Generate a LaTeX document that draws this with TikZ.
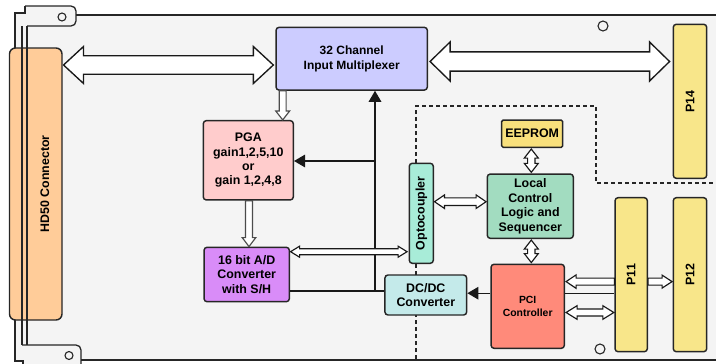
\documentclass[tikz,border=0pt]{standalone}
\usepackage{fontspec}
\setmainfont{Liberation Sans}
\usetikzlibrary{calc,arrows.meta}
\definecolor{boardc}{HTML}{F4F4F4}
\definecolor{hdc}{HTML}{FFCC99}
\definecolor{muxc}{HTML}{CCCCFF}
\definecolor{pgac}{HTML}{FFCCCC}
\definecolor{adcc}{HTML}{D98CF8}
\definecolor{optoc}{HTML}{A8ECD8}
\definecolor{dcdcc}{HTML}{C4EAEA}
\definecolor{eepc}{HTML}{F8E07C}
\definecolor{lclc}{HTML}{A2DCC0}
\definecolor{pcic}{HTML}{FF8A7A}
\definecolor{pconc}{HTML}{F8E68A}
% horizontal double hollow arrow: left tip, right tip, head length, shaft half width, head half width
\newcommand\hdblarrow[6][]{%
  \draw[hollow,#1] (#2) -- ($(#2)+(#4,#6)$) -- ($(#2)+(#4,#5)$) -- ($(#3)+({-1*(#4)},#5)$) -- ($(#3)+({-1*(#4)},#6)$) -- (#3)
   -- ($(#3)+({-1*(#4)},{-1*(#6)})$) -- ($(#3)+({-1*(#4)},{-1*(#5)})$) -- ($(#2)+(#4,{-1*(#5)})$) -- ($(#2)+(#4,{-1*(#6)})$) -- cycle;}
% horizontal single hollow arrow: tail, tip, signed head length, s, h
\newcommand\hsglarrow[5]{%
  \draw[hollow] ($(#1)+(0,#4)$) -- ($(#2)+({-1*(#3)},#4)$) -- ($(#2)+({-1*(#3)},#5)$) -- (#2)
   -- ($(#2)+({-1*(#3)},{-1*(#5)})$) -- ($(#2)+({-1*(#3)},{-1*(#4)})$) -- ($(#1)+(0,{-1*(#4)})$) -- cycle;}
% vertical single hollow arrow: tail, tip, signed head length (positive = downward), s, h
\newcommand\vsglarrow[5]{%
  \draw[hollow,draw=black!70] ($(#1)+(#4,0)$) -- ($(#2)+(#4,{-1*(#3)})$) -- ($(#2)+(#5,{-1*(#3)})$) -- (#2)
   -- ($(#2)+({-1*(#5)},{-1*(#3)})$) -- ($(#2)+({-1*(#4)},{-1*(#3)})$) -- ($(#1)+({-1*(#4)},0)$) -- cycle;}
% vertical double hollow arrow: top tip, bottom tip, L, s, h
\newcommand\vdblarrow[5]{%
  \draw[hollow] (#1) -- ($(#1)+(#5,#3)$) -- ($(#1)+(#4,#3)$) -- ($(#2)+(#4,{-1*(#3)})$) -- ($(#2)+(#5,{-1*(#3)})$) -- (#2)
   -- ($(#2)+({-1*(#5)},{-1*(#3)})$) -- ($(#2)+({-1*(#4)},{-1*(#3)})$) -- ($(#1)+({-1*(#4)},#3)$) -- ($(#1)+({-1*(#5)},#3)$) -- cycle;}
\begin{document}
\begin{tikzpicture}[x=1pt,y=-1pt,
  box/.style={draw=black!85,line width=1.45pt,rounded corners=3pt,inner sep=0pt,align=center,
    font=\bfseries\fontsize{12.4}{14.4}\selectfont},
  hollow/.style={draw=black!90,fill=white,line width=1.15pt,line join=miter},
  conn/.style={draw=black!90,line width=1.4pt},
  fillhead/.style={-{Triangle[length=11pt,width=12.5pt]}},
  outline/.style={draw=black!85,line width=1.3pt},
  hole/.style={draw=black!85,line width=1.1pt}]
\useasboundingbox (0,0) rectangle (716,364);
% board
\fill[boardc] (15,361) -- (15,13) -- (25,13) -- (25,6) -- (72,6) -- (76,10) -- (76,15) -- (716,15)
  -- (716,360) -- (81,360) -- (81,364) -- (23,364) -- (23,361) -- cycle;
\draw[outline] (23,364) -- (23,361) -- (15,361) -- (15,13) -- (25,13) -- (25,6);
\draw[outline,rounded corners=5pt] (25,6) -- (76,6) -- (76,26) -- (27,26);
\draw[outline] (76,15) -- (716,15);
\draw[outline,rounded corners=5pt] (22,345) -- (81,345) -- (81,364);
\draw[outline] (81,360) -- (716,360);
% dashed isolation boundary
\draw[draw=black!85,line width=1.2pt,dash pattern=on 4pt off 3pt] (416,359) -- (416,106) -- (596,106) -- (596,183) -- (716,183);
% mounting holes
\draw[hole] (62,17) circle (4);
\draw[hole] (69,355.5) circle (4);
\draw[hole] (603,26) circle (5);
\draw[hole] (600,349) circle (5);
% connector
\node[box,fill=hdc,rounded corners=6pt,minimum width=52.5pt,minimum height=272pt] (hd) at (35.75,184) {\hspace*{18pt}\rotatebox{90}{HD50 Connector}};
\draw[outline] (22,26) -- (22,345);
\draw[outline] (27,26) -- (27,345);
% blocks
\node[box,fill=muxc,minimum width=151.3pt,minimum height=62.7pt,font=\bfseries\fontsize{12}{14.6}\selectfont] (mux) at (351.7,58.7) {32 Channel\\Input Multiplexer};
\node[box,fill=pgac,minimum width=90pt,minimum height=79.3pt] (pga) at (248.3,160.3) {PGA\\gain1,2,5,10\\or\\gain 1,2,4,8};
\node[box,fill=adcc,minimum width=85.3pt,minimum height=54.4pt] (adc) at (246.7,274.5) {16 bit A/D\\Converter\\with S/H};
\node[box,fill=optoc,minimum width=24pt,minimum height=100pt] (opto) at (421.3,213.3) {\rotatebox{90}{Optocoupler}};
\node[box,fill=dcdcc,minimum width=81.7pt,minimum height=40pt] (dcdc) at (425.8,295) {DC/DC\\Converter};
\node[box,fill=eepc,minimum width=61pt,minimum height=27.3pt,rounded corners=1.5pt] (eep) at (532.2,133.7) {EEPROM};
\node[box,fill=lclc,minimum width=86pt,minimum height=64.3pt] (lcl) at (530.3,206.2) {Local\\Control\\Logic and\\Sequencer};
\node[box,fill=pcic,minimum width=73.3pt,minimum height=84pt,font=\bfseries\fontsize{10.4}{12.6}\selectfont] (pci) at (527.7,306.3) {PCI\\Controller};
\node[box,fill=pconc,minimum width=33.4pt,minimum height=154pt] (p14) at (690,101.3) {\rotatebox{90}{P14}};
\node[box,fill=pconc,minimum width=32.3pt,minimum height=154pt] (p11) at (631.2,274.7) {\rotatebox{90}{P11}};
\node[box,fill=pconc,minimum width=33.4pt,minimum height=154pt] (p12) at (690,274.7) {\rotatebox{90}{P12}};
% level coordinates
\coordinate (yA) at (0,65);
\coordinate (yB) at (0,61.5);
\coordinate (yC) at (0,251.7);
\coordinate (yD) at (0,201.7);
\coordinate (yE) at (0,281.6);
\coordinate (yF) at (0,312.5);
\coordinate (yG) at (0,293.2);
\coordinate (yH) at (0,291);
\coordinate (yI) at (0,161);
\coordinate (xJ) at (375,0);
\coordinate (xK) at (282.7,0);
\coordinate (xL) at (249,0);
\coordinate (xM) at (531.3,0);
% control lines
\coordinate (jb) at (xJ |- yH);
\coordinate (jp) at (xJ |- yI);
\draw[conn,fillhead] (jb) -- (jb |- mux.south);
\draw[conn,fillhead] (jp) -- (jp -| pga.east);
\draw[conn] (adc.east |- yH) -- (dcdc.west |- yH);
\draw[conn,fillhead] (pci.west |- yG) -- (dcdc.east |- yG);
\draw[conn] (pci.east |- yG) -- (p11.west |- yG);
% big bus arrows
\coordinate (b1) at ($(hd.east |- yA)+(0.8,0)$);
\coordinate (b2) at ($(mux.west |- yA)+(-2,0)$);
\hdblarrow[line width=1.35pt]{b1}{b2}{20}{9.3}{18.5}
\coordinate (b3) at ($(mux.east |- yB)+(2,0)$);
\coordinate (b4) at ($(p14.west |- yB)+(-3,0)$);
\hdblarrow[line width=1.35pt]{b3}{b4}{20}{9.6}{19.5}
% small hollow arrows
\coordinate (s1) at (xK |- mux.south);
\coordinate (s2) at (xK |- pga.north);
\vsglarrow{s1}{s2}{9}{3.4}{7}
\coordinate (s3) at (xL |- pga.south);
\coordinate (s4) at (xL |- adc.north);
\vsglarrow{s3}{s4}{9}{3.5}{6.8}
\coordinate (s5) at ($(adc.east |- yC)+(0.5,0)$);
\coordinate (s6) at ($(opto.west |- yC)+(-1.5,0)$);
\hdblarrow{s5}{s6}{9}{3}{5.5}
\coordinate (s7) at ($(opto.east |- yD)+(0.5,0)$);
\coordinate (s8) at ($(lcl.west |- yD)+(-0.5,0)$);
\hdblarrow{s7}{s8}{10}{3.8}{6.8}
\coordinate (s9) at ($(xM |- eep.south)+(0,1)$);
\coordinate (s10) at ($(xM |- lcl.north)+(0,-1)$);
\vdblarrow{s9}{s10}{9}{3.7}{7}
\coordinate (s11) at ($(xM |- lcl.south)+(0,1)$);
\coordinate (s12) at ($(xM |- pci.north)+(0,-1)$);
\vdblarrow{s11}{s12}{9}{3.7}{7}
\coordinate (s13) at (p11.west |- yE);
\coordinate (s14) at ($(pci.east |- yE)+(1,0)$);
\hsglarrow{s13}{s14}{-10}{3.5}{6.7}
\coordinate (s15) at ($(pci.east |- yF)+(1,0)$);
\coordinate (s16) at ($(p11.west |- yF)+(-0.5,0)$);
\hdblarrow{s15}{s16}{11}{3.5}{6.8}
\coordinate (s17) at (p11.east |- yE);
\coordinate (s18) at ($(p12.west |- yE)+(-0.5,0)$);
\hsglarrow{s17}{s18}{10}{3.5}{6.5}
\end{tikzpicture}
\end{document}
